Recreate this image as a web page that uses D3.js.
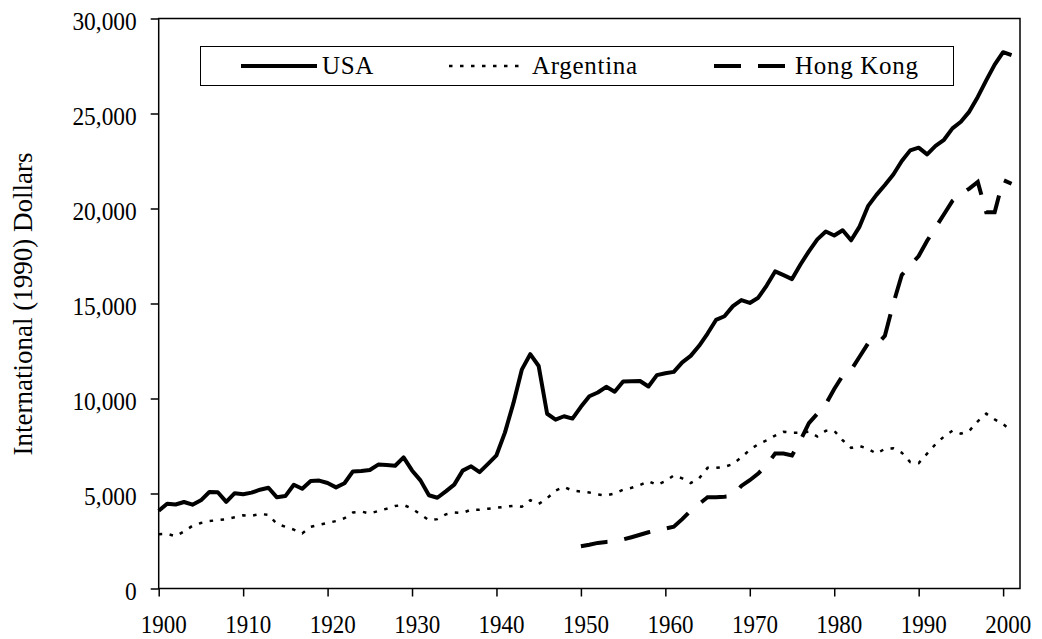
<!DOCTYPE html>
<meta charset="utf-8">
<style>
body { margin: 0; background: #fff; }
</style>
<svg width="1042" height="639"></svg>
<script src="https://cdnjs.cloudflare.com/ajax/libs/d3/7.8.5/d3.min.js"></script>
<script>

// values (1990 international dollars)
var years = d3.range(1900, 2002);

var usa = [4091, 4464, 4421, 4551, 4410, 4642, 5079, 5065, 4560, 5017,
  4964, 5046, 5201, 5301, 4799, 4864, 5459, 5248, 5659, 5680,
  5552, 5323, 5540, 6164, 6181, 6237, 6523, 6502, 6461, 6899,
  6213, 5691, 4908, 4777, 5114, 5467, 6204, 6430, 6126, 6561,
  7010, 8206, 9741, 11518, 12333, 11709, 9197, 8886, 9065, 8944,
  9561, 10116, 10316, 10613, 10359, 10897, 10914, 10920, 10631, 11230,
  11328, 11402, 11905, 12242, 12773, 13419, 14134, 14330, 14863, 15179,
  15030, 15304, 15944, 16689, 16491, 16284, 17052, 17747, 18373, 18789,
  18577, 18856, 18325, 19047, 20123, 20717, 21236, 21788, 22499, 23059,
  23201, 22849, 23298, 23616, 24215, 24565, 25100, 25871, 26742, 27570,
  28225, 28070];

var argentina = [2850, 2880, 2750, 3000, 3300, 3450, 3550, 3600, 3650, 3750,
  3850, 3830, 3920, 3880, 3400, 3250, 3100, 2900, 3250, 3350,
  3450, 3550, 3700, 4000, 4050, 3950, 4080, 4200, 4340, 4400,
  4200, 3900, 3600, 3650, 3900, 4000, 3980, 4150, 4150, 4200,
  4250, 4300, 4350, 4300, 4650, 4450, 4750, 5150, 5350, 5150,
  5100, 5050, 4950, 4900, 5000, 5200, 5300, 5450, 5650, 5450,
  5650, 5950, 5800, 5550, 5800, 6350, 6350, 6400, 6550, 6900,
  7300, 7600, 7800, 8050, 8250, 8200, 8200, 8250, 8000, 8300,
  8300, 7800, 7400, 7500, 7350, 7100, 7350, 7380, 7150, 6650,
  6600, 7100, 7600, 8000, 8300, 8150, 8300, 8800, 9200, 8900,
  8650, 8300];

var hkYears = d3.range(1950, 2002);
var hongKong = [2220, 2300, 2400, 2450, 2480, 2580, 2700, 2830, 2960, 3060,
  3150, 3250, 3650, 4100, 4450, 4800, 4800, 4830, 4870, 5400,
  5700, 6050, 6500, 7100, 7100, 7000, 7800, 8700, 9200, 9700,
  10500, 11200, 11500, 12200, 12900, 12800, 13300, 15000, 16500, 17000,
  17500, 18300, 19000, 19700, 20400, 20750, 21050, 21400, 19800, 19800,
  21500, 21300];

var xTicks = d3.range(1900, 2001, 10);
var yTicks = d3.range(0, 30001, 5000);

var seriesNames = ["USA", "Argentina", "Hong Kong"];

var serif = "'Liberation Serif', 'Times New Roman', Times, serif";

var svg = d3.select("svg"),
    margin = {top: 18.5, right: 22, bottom: 50.5, left: 158.7},
    width = +svg.attr("width") - margin.left - margin.right,
    height = +svg.attr("height") - margin.top - margin.bottom;

var x = d3.scaleLinear().domain([1900, 2002]).range([0, width]);
var y = d3.scaleLinear().domain([0, 30000]).range([height, 0]);

var g = svg.append("g").attr("transform", "translate(" + margin.left + "," + margin.top + ")");

// plot frame
g.append("rect")
    .attr("width", width)
    .attr("height", height)
    .attr("fill", "none")
    .attr("stroke", "#000")
    .attr("stroke-width", 1.5);

var yAxis = g.append("g")
    .call(d3.axisLeft(y).tickValues(yTicks).tickFormat(d3.format(",")).tickSize(8).tickPadding(0))
    .attr("font-family", serif);
yAxis.select(".domain").remove();
yAxis.selectAll(".tick line").attr("stroke", "#000").attr("stroke-width", 1.5);
yAxis.selectAll(".tick text")
    .attr("font-family", serif)
    .attr("font-size", 26)
    .attr("fill", "#000")
    .attr("x", -24.4)
    .attr("dy", null)
    .attr("y", 11.2)
    .attr("transform", "scale(0.9,1)");

var xAxis = g.append("g")
    .attr("transform", "translate(0," + height + ")")
    .call(d3.axisBottom(x).tickValues(xTicks).tickFormat(d3.format("d")).tickSize(8).tickPadding(0))
    .attr("font-family", serif);
xAxis.select(".domain").remove();
xAxis.selectAll(".tick line").attr("stroke", "#000").attr("stroke-width", 1.5);
xAxis.selectAll(".tick text")
    .attr("font-family", serif)
    .attr("font-size", 25)
    .attr("fill", "#000")
    .attr("dy", null)
    .attr("y", 45)
    .attr("x", 5)
    .attr("transform", "scale(0.92,1)");

svg.append("text")
    .attr("transform", "translate(31.5," + 304 + ") rotate(-90)")
    .attr("text-anchor", "middle")
    .attr("font-family", serif)
    .attr("font-size", 27)
    .text("International (1990) Dollars");

var line = d3.line()
    .x(function(d) { return x(d[0]); })
    .y(function(d) { return y(d[1]); });

g.append("path")
    .datum(d3.zip(years, argentina))
    .attr("fill", "none")
    .attr("stroke", "#000")
    .attr("stroke-width", 2.5)
    .attr("stroke-dasharray", "3.5,7.5")
    .attr("d", line);

g.append("path")
    .datum(d3.zip(hkYears, hongKong))
    .attr("fill", "none")
    .attr("stroke", "#000")
    .attr("stroke-width", 4)
    .attr("stroke-dasharray", "27,17")
    .attr("d", line);

g.append("path")
    .datum(d3.zip(years, usa))
    .attr("fill", "none")
    .attr("stroke", "#000")
    .attr("stroke-width", 4)
    .attr("stroke-linejoin", "round")
    .attr("d", line);

// legend
var legend = svg.append("g");
legend.append("rect")
    .attr("x", 200.5).attr("y", 46.5)
    .attr("width", 753).attr("height", 39)
    .attr("fill", "#fff")
    .attr("stroke", "#000")
    .attr("stroke-width", 1);

var legendItems = [
  {name: seriesNames[0], x1: 241, x2: 317, tx: 322, w: 4, dash: null},
  {name: seriesNames[1], x1: 449, x2: 523, tx: 532, w: 2.5, dash: "3.5,7.5"},
  {name: seriesNames[2], x1: 714, x2: 785, tx: 795, w: 4, dash: "27,17"}
];

legendItems.forEach(function(d) {
  legend.append("line")
      .attr("x1", d.x1).attr("x2", d.x2)
      .attr("y1", 66).attr("y2", 66)
      .attr("stroke", "#000")
      .attr("stroke-width", d.w)
      .attr("stroke-dasharray", d.dash);
  legend.append("text")
      .attr("x", d.tx).attr("y", 74)
      .attr("font-family", serif)
      .attr("font-size", 25)
      .attr("letter-spacing", 0.7)
      .text(d.name);
});

</script>
